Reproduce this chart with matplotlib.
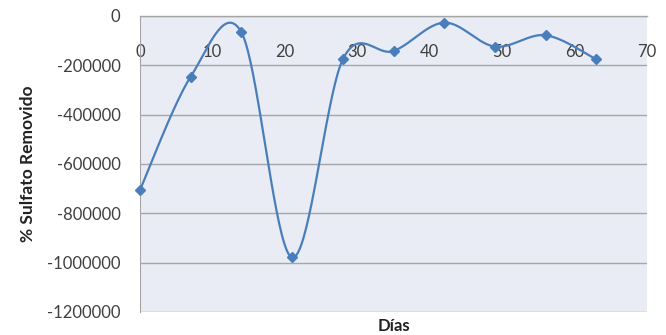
import numpy as np
import matplotlib
matplotlib.use("Agg")
import matplotlib.pyplot as plt

dias = [0, 7, 14, 21, 28, 35, 42, 49, 56, 63]
sulfato_removido = [-705000, -246000, -66000, -979000, -176000, -142000,
                    -27000, -124000, -78000, -176000]
x_ticks = [0, 10, 20, 30, 40, 50, 60, 70]
y_ticks = [0, -200000, -400000, -600000, -800000, -1000000, -1200000]


def smooth_curve(x, y, n=40):
    """Cardinal-spline smoothing through every point (Excel-style)."""
    x = np.asarray(x, float)
    y = np.asarray(y, float)
    px = np.concatenate([[x[0]], x, [x[-1]]])
    py = np.concatenate([[y[0]], y, [y[-1]]])
    t = np.linspace(0, 1, n)
    xs, ys = [], []
    k = 1 / 6
    for i in range(1, len(px) - 2):
        p0 = np.array([px[i], py[i]])
        p3 = np.array([px[i + 1], py[i + 1]])
        p1 = p0 + k * (np.array([px[i + 1], py[i + 1]]) - np.array([px[i - 1], py[i - 1]]))
        p2 = p3 - k * (np.array([px[i + 2], py[i + 2]]) - np.array([px[i], py[i]]))
        b = ((1 - t) ** 3)[:, None] * p0 + (3 * (1 - t) ** 2 * t)[:, None] * p1 \
            + (3 * (1 - t) * t ** 2)[:, None] * p2 + (t ** 3)[:, None] * p3
        xs.append(b[:, 0])
        ys.append(b[:, 1])
    return np.concatenate(xs), np.concatenate(ys)


plt.rcParams['font.family'] = ['Lato', 'DejaVu Sans']

fig = plt.figure(figsize=(6.66, 3.35), dpi=100)
ax = fig.add_axes([140 / 666, 1 - 312 / 335, (647 - 140) / 666, (312 - 16) / 335])
ax.set_facecolor('#E9ECF4')

line_color = '#4A7EBB'
sx, sy = smooth_curve(dias, sulfato_removido)
ax.plot(sx, sy, color=line_color, lw=1.6, zorder=3, clip_on=False)
ax.plot(dias, sulfato_removido, ls='none', marker='D', ms=5.5,
        color=line_color, zorder=4, clip_on=False)

ax.set_xlim(0, 70)
ax.set_ylim(-1200000, 0)
ax.set_yticks(y_ticks)
ax.set_yticklabels([str(v) for v in y_ticks])
ax.set_xticks(x_ticks)
ax.set_xticklabels([str(v) for v in x_ticks])

ax.grid(axis='y', color='#A6A6A6', lw=1.0, zorder=1)
ax.set_axisbelow(True)

for side in ['right', 'bottom']:
    ax.spines[side].set_visible(False)
ax.spines['left'].set_color('#A6A6A6')
ax.spines['top'].set_color('#A6A6A6')
ax.spines['top'].set_linewidth(1.0)

ax.tick_params(axis='y', length=0, pad=14, labelsize=12, colors='#404040')
ax.xaxis.set_ticks_position('top')
ax.xaxis.set_label_position('bottom')
ax.tick_params(axis='x', length=0, direction='in', pad=-32,
               labelsize=12, colors='#404040')

ax.set_ylabel('% Sulfato Removido', fontsize=12.5, fontweight='bold',
              color='#222222', labelpad=8)
ax.set_xlabel('Días', fontsize=12, fontweight='bold', color='#222222',
              labelpad=4)

fig.savefig('out.png', dpi=100)
